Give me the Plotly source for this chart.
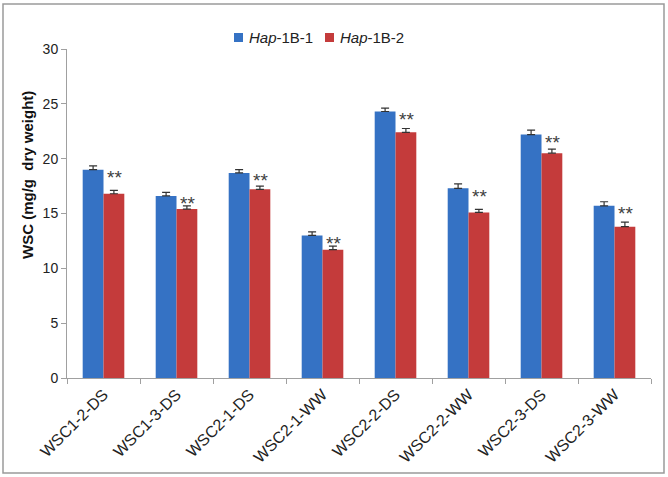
import plotly.graph_objects as go

categories = ["WSC1-2-DS", "WSC1-3-DS", "WSC2-1-DS", "WSC2-1-WW",
              "WSC2-2-DS", "WSC2-2-WW", "WSC2-3-DS", "WSC2-3-WW"]
hap1 = [19.0, 16.6, 18.7, 13.0, 24.3, 17.3, 22.2, 15.7]
hap1_err = [0.35, 0.33, 0.3, 0.33, 0.3, 0.4, 0.4, 0.37]
hap2 = [16.8, 15.4, 17.2, 11.7, 22.4, 15.1, 20.5, 13.8]
hap2_err = [0.3, 0.3, 0.3, 0.33, 0.35, 0.27, 0.37, 0.42]
sig_labels = ["**"] * 8
series_names = ["<i>Hap</i>-1B-1", "<i>Hap</i>-1B-2"]
series_colors = ["#3572c4", "#c43b3b"]

font_family = "Liberation Sans, Arial, sans-serif"

fig = go.Figure()
for name, vals, errs, col in zip(series_names, [hap1, hap2], [hap1_err, hap2_err], series_colors):
    fig.add_trace(go.Bar(
        x=categories, y=vals, name=name, showlegend=False,
        marker=dict(color=col, line=dict(width=0)),
        error_y=dict(type="data", symmetric=False, array=errs,
                     arrayminus=[0] * len(errs), color="#333333", thickness=1.2, width=4),
    ))

for c, v, s in zip(categories, hap1, sig_labels):
    fig.add_annotation(x=c, y=v, text=s, xref="x", yref="y",
                       xshift=11, yshift=-8, showarrow=False,
                       font=dict(family=font_family, size=19, color="#404040"))

# y-axis title (placed like the original, above the plot centre)
fig.add_annotation(text="<b>WSC (mg/g  dry weight)</b>", textangle=-90,
                   xref="paper", yref="paper", x=-40 / 584, y=0.617,
                   xanchor="center", yanchor="middle", showarrow=False,
                   font=dict(family=font_family, size=15, color="#111111"))

# legend drawn compactly like the original
W, H = 584.0, 329.0
shapes = [dict(type="rect", xref="paper", yref="paper",
               x0=-64 / W, x1=1 + 13 / W, y0=-95 / H, y1=1 + 45 / H,
               line=dict(color="#9a9a9a", width=1.5), fillcolor="rgba(0,0,0,0)")]
legend_sq_left = [234, 325]
for name, col, sx in zip(series_names, series_colors, legend_sq_left):
    shapes.append(dict(type="rect", xref="paper", yref="paper",
                       x0=(sx - 67) / W, x1=(sx + 9 - 67) / W,
                       y0=(378 - 42) / H, y1=(378 - 33) / H,
                       line=dict(width=0), fillcolor=col))
    fig.add_annotation(text=name, xref="paper", yref="paper",
                       x=(sx + 13 - 67) / W, y=(378 - 38) / H,
                       xanchor="left", yanchor="middle", showarrow=False,
                       font=dict(family=font_family, size=15, color="#222222"))

fig.update_layout(
    width=668, height=477,
    margin=dict(l=67, r=17, t=49, b=99, autoexpand=False),
    paper_bgcolor="white", plot_bgcolor="white",
    barmode="group", bargap=0.43, bargroupgap=0,
    font=dict(family=font_family, size=13, color="#222222"),
    showlegend=False,
    xaxis=dict(showline=True, linecolor="#a0a0a0", linewidth=1,
               ticks="outside", tickson="boundaries", ticklen=5, tickcolor="#a0a0a0",
               tickangle=-45, tickfont=dict(size=16, color="#222222"),
               showgrid=False, automargin=False),
    yaxis=dict(range=[0, 30], dtick=5, showline=True, linecolor="#a0a0a0", linewidth=1,
               ticks="outside", ticklen=5, tickcolor="#a0a0a0",
               tickfont=dict(size=14, color="#222222"), showgrid=False, zeroline=False,
               automargin=False),
    shapes=shapes,
)

fig.write_html("out.html", config={"displayModeBar": False},
               post_script="document.body.style.margin='0';document.body.style.overflow='hidden';")
